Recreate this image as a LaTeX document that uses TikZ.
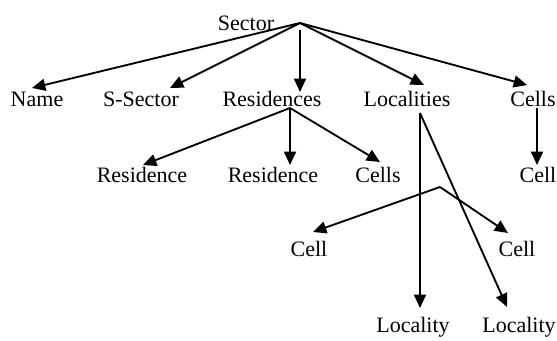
\documentclass[tikz,border=0pt]{standalone}
\usepackage{fontspec}
\setmainfont{Liberation Serif}
\usetikzlibrary{arrows.meta}
\begin{document}
\begin{tikzpicture}[x=0.75pt,y=-0.75pt,
  lbl/.style={anchor=base,inner sep=0pt,outer sep=0pt,font=\fontsize{16.5}{19}\selectfont},
  arr/.style={line width=1.4pt,-{Triangle[length=10pt,width=9pt]}}]
\useasboundingbox (0,0) rectangle (557,341);
% nodes
\node[lbl] (sector) at (246,31) {Sector};
\node[lbl] (name) at (37,107) {Name};
\node[lbl] (ssector) at (141,107) {S-Sector};
\node[lbl] (res) at (272,107) {Residences};
\node[lbl] (loc) at (407,107) {Localities};
\node[lbl] (cells) at (533,107) {Cells};
\node[lbl] (res1) at (142,183) {Residence};
\node[lbl] (res2) at (273,183) {Residence};
\node[lbl] (cells2) at (378,183) {Cells};
\node[lbl] (cellr) at (538,183) {Cell};
\node[lbl] (cellA) at (309,257) {Cell};
\node[lbl] (cellB) at (517,257) {Cell};
\node[lbl] (loc1) at (413,333) {Locality};
\node[lbl] (loc2) at (519,333) {Locality};
% fan points
\coordinate (s0) at (300,23);
\coordinate (r0) at (290,108);
\coordinate (c0) at (440,187);
\coordinate (l0) at (420,113);
% Sector fan
\draw[arr] (s0) -- ([shift={(-5,-19)}]name.base);
\draw[arr] (s0) -- ([shift={(29,-19)}]ssector.base);
\draw[arr] ([shift={(0,7)}]s0) -- ([shift={(28,-15)}]res.base);
\draw[arr] (s0) -- ([shift={(17,-22)}]loc.base);
\draw[arr] (s0) -- ([shift={(-6,-22)}]cells.base);
% Residences fan
\draw[arr] (r0) -- ([shift={(1,-18)}]res1.base);
\draw[arr] (r0) -- ([shift={(17,-18)}]res2.base);
\draw[arr] (r0) -- ([shift={(2,-21)}]cells2.base);
% Cells -> Cell
\draw[arr] ([shift={(4,1)}]cells.base) -- ([shift={(-1,-18)}]cellr.base);
% Cell fan
\draw[arr] (c0) -- ([shift={(4,-25)}]cellA.base);
\draw[arr] (c0) -- ([shift={(-9,-24)}]cellB.base);
% Localities
\draw[arr] (l0) -- ([shift={(7,-25)}]loc1.base);
\draw[arr] (l0) -- ([shift={(-12,-26)}]loc2.base);
\end{tikzpicture}
\end{document}
